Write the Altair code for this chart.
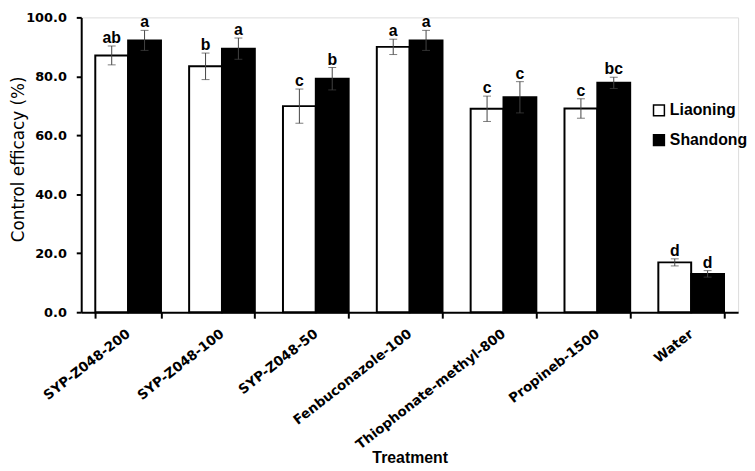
import altair as alt
import pandas as pd

treatments = ["SYP-Z048-200", "SYP-Z048-100", "SYP-Z048-50", "Fenbuconazole-100",
              "Thiophonate-methyl-800", "Propineb-1500", "Water"]
liaoning = [87.1, 83.4, 69.9, 90.0, 69.0, 69.1, 16.9]
liaoning_err = [3.2, 4.5, 5.8, 2.6, 4.3, 3.3, 1.2]
liaoning_lbl = ["ab", "b", "c", "a", "c", "c", "d"]
shandong = [92.2, 89.4, 79.2, 92.2, 72.9, 77.8, 13.0]
shandong_err = [3.4, 3.6, 3.8, 3.4, 5.3, 1.9, 1.1]
shandong_lbl = ["a", "a", "b", "a", "c", "bc", "d"]
regions = ["Liaoning", "Shandong"]

rows = []
for i, t in enumerate(treatments):
    rows.append(dict(t=t, r="Liaoning", v=liaoning[i], e=liaoning_err[i], l=liaoning_lbl[i]))
    rows.append(dict(t=t, r="Shandong", v=shandong[i], e=shandong_err[i], l=shandong_lbl[i]))
df = pd.DataFrame(rows)
df["lo"] = df.v - df.e
df["hi"] = df.v + df.e

FONT = "Liberation Sans"
WIDE = "DejaVu Sans"

x = alt.X("t:N", sort=treatments, title="Treatment",
          scale=alt.Scale(paddingInner=0.3, paddingOuter=0.15),
          axis=alt.Axis(labelAngle=-38, labelAlign="right", labelBaseline="middle",
                        labelFont=WIDE, labelFontSize=13.5, labelFontWeight="bold",
                        labelColor="black", labelPadding=14, labelLimit=400,
                        titleFont=FONT, titleFontSize=16, titleFontWeight="bold",
                        titleColor="black", titleY=152, titleBaseline="alphabetic",
                        domainColor="black", domainWidth=2, tickColor="black",
                        tickWidth=2, tickSize=6, tickBand="extent"))
xo = alt.XOffset("r:N", sort=regions, scale=alt.Scale(paddingInner=0, paddingOuter=0))
y = alt.Y("v:Q", title="Control efficacy (%)",
          scale=alt.Scale(domain=[0, 100], nice=False),
          axis=alt.Axis(values=[0, 20, 40, 60, 80, 100], format=".1f", grid=False,
                        labelFont=WIDE, labelFontSize=13, labelFontWeight="bold",
                        labelColor="black", labelPadding=10,
                        titleFont=WIDE, titleFontSize=17, titleFontWeight="normal",
                        titleColor="black", titleX=-58, titleY=143, titleAngle=270,
                        titleAlign="center", titleBaseline="alphabetic",
                        domainColor="black", domainWidth=2, tickColor="black",
                        tickWidth=2, tickSize=5))

base = alt.Chart(df)

bars = base.mark_bar(stroke="black", strokeWidth=2).encode(
    x=x, xOffset=xo, y=y,
    fill=alt.Fill("r:N", sort=regions, title=None,
                  scale=alt.Scale(domain=regions, range=["white", "black"]),
                  legend=alt.Legend(orient="none", legendX=576, legendY=86,
                                    symbolType="square", symbolSize=121,
                                    symbolStrokeColor="black", symbolStrokeWidth=1.5,
                                    labelFont=FONT, labelFontSize=16,
                                    labelFontWeight="bold", labelColor="black",
                                    rowPadding=12, labelOffset=3)),
)

err = base.mark_rule(color="#444444", strokeWidth=1).encode(
    x=x, xOffset=xo, y="lo:Q", y2="hi:Q")
cap_hi = base.mark_tick(color="#444444", thickness=1, size=8, orient="horizontal").encode(
    x=x, xOffset=xo, y="hi:Q")
cap_lo = base.mark_tick(color="#444444", thickness=1, size=8, orient="horizontal").encode(
    x=x, xOffset=xo, y="lo:Q")
letters = base.mark_text(font=FONT, fontSize=16, fontWeight="bold", color="black",
                         baseline="alphabetic", dy=-3).encode(
    x=x, xOffset=xo, y="hi:Q", text="l:N")

chart = alt.layer(bars, err, cap_hi, cap_lo, letters).properties(
    width=664, height=298,
    autosize=alt.AutoSizeParams(type="none"),
    padding={"left": 74, "top": 7, "right": 9, "bottom": 156},
).configure_view(stroke=None).configure(background="white")

chart.save("out.html", embed_options={"renderer": "svg", "actions": False})
